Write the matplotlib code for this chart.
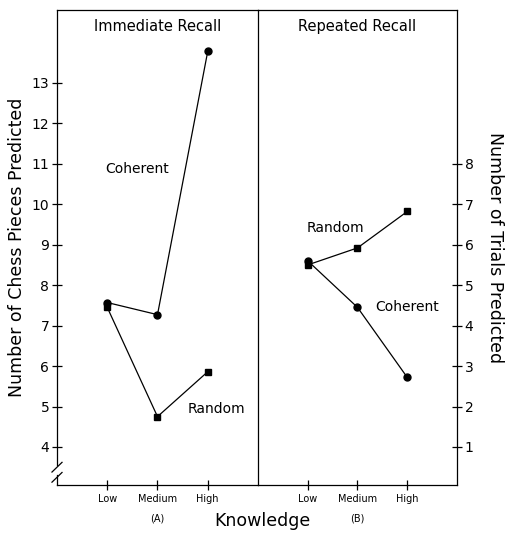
import matplotlib
matplotlib.use("Agg")
import matplotlib.pyplot as plt

# ---- data ----
knowledge = ["Low", "Medium", "High"]
immediate_coherent = [7.57, 7.27, 13.78]
immediate_random = [7.45, 4.75, 5.86]
repeated_coherent = [5.6, 4.45, 2.72]
repeated_random = [5.5, 5.92, 6.82]
left_ticks = [4, 5, 6, 7, 8, 9, 10, 11, 12, 13]
right_ticks = [1, 2, 3, 4, 5, 6, 7, 8]

plt.rcParams['font.family'] = ['DejaVu Sans']
W, H = 510, 533
fig = plt.figure(figsize=(W / 100, H / 100), dpi=100)

x0, xd, x1 = 57 / W, 258 / W, 457 / W
y0, y1 = 1 - 485 / H, 1 - 10 / H
axL = fig.add_axes([x0, y0, xd - x0, y1 - y0])
axR = fig.add_axes([xd, y0, x1 - xd, y1 - y0])
axR.patch.set_visible(False)

lw = 0.9
xs = [1, 2, 3]
for ax in (axL, axR):
    ax.set_xlim(0, 4)
    ax.set_xticks(xs)
    ax.set_xticklabels(knowledge, fontsize=7)
    ax.tick_params(axis='x', direction='inout', length=7, width=lw, pad=3)
    for s in ax.spines.values():
        s.set_linewidth(lw)
        s.set_color('black')

axL.set_ylim(3.06, 14.8)
axR.set_ylim(0.06, 11.8)

# left panel
axL.plot(xs, immediate_coherent, color='black', lw=lw, marker='o', ms=5)
axL.plot(xs, immediate_random, color='black', lw=lw, marker='s', ms=4.3)
axL.set_yticks(left_ticks)
axL.set_yticklabels([str(t) for t in left_ticks], fontsize=10)
axL.tick_params(axis='y', direction='inout', length=7, width=lw, pad=2)
axL.spines['left'].set_bounds(3.55, 14.8)
axL.set_title("Immediate Recall", fontsize=10.5, y=1, pad=-15)
axL.text(0.96, 10.86, "Coherent", fontsize=10, va='center')
axL.text(2.59, 4.94, "Random", fontsize=10, va='center')
axL.set_ylabel("Number of Chess Pieces Predicted", fontsize=12.5, labelpad=4)

# axis break marks
for yy in (3.25, 3.5):
    axL.plot([-0.1, 0.1], [yy - 0.12, yy + 0.12], color='black', lw=lw, clip_on=False)
axL.plot([0, 0], [3.06, 3.3], color='black', lw=lw, clip_on=False)

# right panel
axR.plot(xs, repeated_random, color='black', lw=lw, marker='s', ms=4.3)
axR.plot(xs, repeated_coherent, color='black', lw=lw, marker='o', ms=5)
axR.yaxis.tick_right()
axR.yaxis.set_label_position('right')
axR.set_yticks(right_ticks)
axR.set_yticklabels([str(t) for t in right_ticks], fontsize=10)
axR.tick_params(axis='y', direction='inout', length=7, width=lw, pad=2)
axR.spines['left'].set_visible(False)
axR.set_title("Repeated Recall", fontsize=10.5, y=1, pad=-15)
axR.text(0.975, 6.42, "Random", fontsize=10, va='center')
axR.text(2.35, 4.47, "Coherent", fontsize=10, va='center')
axR.set_ylabel("Number of Trials Predicted", fontsize=12.5, rotation=-90,
               labelpad=22)

# sub-labels
axL.text(2, -0.0695, "(A)", transform=axL.get_xaxis_transform(), ha='center',
         va='center', fontsize=7)
axR.text(2, -0.0695, "(B)", transform=axR.get_xaxis_transform(), ha='center',
         va='center', fontsize=7)
fig.text(262 / W, 1 - 521 / H, "Knowledge", ha='center', va='center',
         fontsize=12.5)

fig.savefig("out.png", dpi=100)
